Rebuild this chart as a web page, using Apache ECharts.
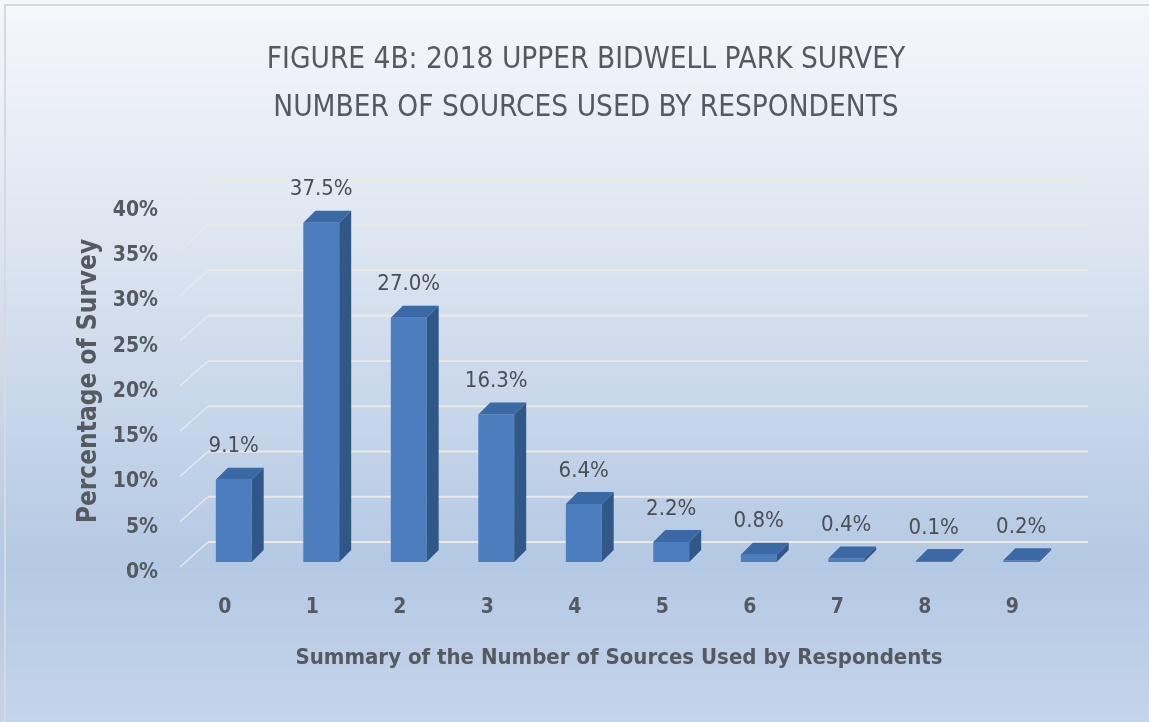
<!DOCTYPE html>
<html>
<head>
<meta charset="utf-8">
<script src="https://cdn.jsdelivr.net/npm/echarts@6/dist/echarts.min.js"></script>
<style>
  html, body { margin: 0; padding: 0; }
  #chart { width: 1149px; height: 722px; }
</style>
</head>
<body>
<div id="chart"></div>
<script>
// Number of information sources each respondent used
const categories = ['0', '1', '2', '3', '4', '5', '6', '7', '8', '9'];
// Share of survey respondents (percent)
const shares = [9.1, 37.5, 27.0, 16.3, 6.4, 2.2, 0.8, 0.4, 0.1, 0.2];
// Value-axis tick values (percent)
const yTicks = [0, 5, 10, 15, 20, 25, 30, 35, 40];

const titleLines = ['FIGURE 4B: 2018 UPPER BIDWELL PARK SURVEY', 'NUMBER OF SOURCES USED BY RESPONDENTS'];
const xName = 'Summary of the Number of Sources Used by Respondents';
const yName = 'Percentage of Survey';

const FONT = "'DejaVu Sans Condensed', 'Open Sans', sans-serif";
const TEXT = '#555a60';

// 3D extrusion of the bars and of the chart floor/wall
const BAR_DX = 12, BAR_DY = -12;
const WALL_DX = 28, WALL_DY = -25;
const FRONT_C = '#4b7dbf', TOP_C = '#3b69a6', SIDE_C = '#2f5889';

const chart = echarts.init(document.getElementById('chart'));

function renderGridLine(params, api) {
  const cs = params.coordSys;
  const y = api.coord([0, api.value(1)])[1];
  const x0 = cs.x - 10;
  const yFront = y + 5;
  const bx = x0 + WALL_DX, by = yFront + WALL_DY;
  const xr = cs.x + cs.width + 23;
  return {
    type: 'group',
    children: [
      { type: 'line', shape: { x1: x0, y1: yFront, x2: bx, y2: by },
        style: { stroke: '#e6e8ec', lineWidth: 1.5 } },
      { type: 'line', shape: { x1: bx, y1: by, x2: xr, y2: by },
        style: { stroke: '#ece9e2', lineWidth: 2.2 } }
    ]
  };
}

function renderBar(params, api) {
  const i = api.value(0);
  const v = api.value(1);
  const base = api.coord([i, 0]);
  const top = api.coord([i, v]);
  const w = api.size([1, 0])[0] * 0.41;
  const xl = base[0] - w / 2, xr = base[0] + w / 2;
  const y0 = base[1], y1 = top[1];
  return {
    type: 'group',
    children: [
      { type: 'rect', shape: { x: xl, y: y1, width: w, height: y0 - y1 },
        style: { fill: FRONT_C } },
      { type: 'polygon', shape: { points: [[xr, y0], [xr + BAR_DX, y0 + BAR_DY], [xr + BAR_DX, y1 + BAR_DY], [xr, y1]] },
        style: { fill: SIDE_C } },
      { type: 'polygon', shape: { points: [[xl, y1], [xl + BAR_DX, y1 + BAR_DY], [xr + BAR_DX, y1 + BAR_DY], [xr, y1]] },
        style: { fill: TOP_C } },
      { type: 'text', x: base[0], y: y1 + BAR_DY - 21,
        style: { text: v.toFixed(1) + '%', fill: '#4a4f55', font: "22px " + FONT, align: 'center', verticalAlign: 'middle' } }
    ]
  };
}

chart.setOption({
  backgroundColor: {
    type: 'linear', x: 0, y: 0, x2: 0, y2: 1,
    colorStops: [
      { offset: 0, color: '#f5f7fb' },
      { offset: 0.3, color: '#e0e7f2' },
      { offset: 0.78, color: '#b4c9e3' },
      { offset: 1, color: '#c4d4ea' }
    ]
  },
  animation: false,
  title: {
    text: titleLines.join('\n'),
    left: 581, top: 31, textAlign: 'center',
    textStyle: { fontFamily: FONT, fontSize: 29.5, fontWeight: 'normal', color: TEXT, lineHeight: 48 }
  },
  graphic: [
    { type: 'rect', shape: { x: 5, y: 5, width: 1200, height: 800 },
      style: { fill: null, stroke: '#d6d9de', lineWidth: 2 }, silent: true }
  ],
  grid: { left: 190, top: 200, width: 875, height: 362 },
  xAxis: {
    type: 'category', data: categories,
    axisLine: { show: false }, axisTick: { show: false },
    axisLabel: { margin: 35, padding: [0, 18, 0, 0], fontFamily: FONT, fontSize: 21, fontWeight: 'bold', color: TEXT },
    name: xName, nameLocation: 'middle', nameGap: 85,
    nameTextStyle: { fontFamily: FONT, fontSize: 22, fontWeight: 'bold', color: TEXT, padding: [0, 17, 0, 0] }
  },
  yAxis: {
    type: 'value', min: 0, max: 40, interval: 5,
    axisLine: { show: false }, axisTick: { show: false }, splitLine: { show: false },
    axisLabel: { formatter: '{value}%', margin: 32, verticalAlign: 'top', fontFamily: FONT, fontSize: 21, fontWeight: 'bold', color: TEXT },
    name: yName, nameLocation: 'middle', nameGap: 84,
    nameTextStyle: { fontFamily: FONT, fontSize: 26, fontWeight: 'bold', color: TEXT, padding: [12, 0, 0, 0] }
  },
  series: [
    {
      type: 'custom', z: 1, silent: true,
      renderItem: renderGridLine,
      data: yTicks.map(t => [0, t])
    },
    {
      type: 'custom', z: 3,
      renderItem: renderBar,
      data: shares.map((s, i) => [i, s])
    }
  ]
});
</script>
</body>
</html>
